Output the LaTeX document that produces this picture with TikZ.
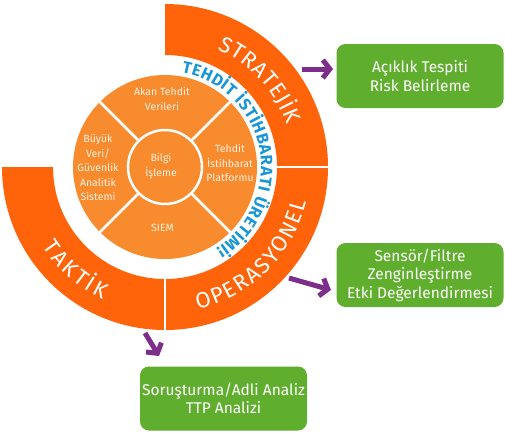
\documentclass[tikz,border=0pt]{standalone}
\usepackage{fontspec}
\setmainfont{Fira Sans}
\usetikzlibrary{decorations.text,arrows.meta}
\definecolor{ringor}{HTML}{FF640A}
\definecolor{diskor}{HTML}{F78B2E}
\definecolor{disktxt}{HTML}{FFF1E2}
\definecolor{gr}{HTML}{60AE2E}
\definecolor{purp}{HTML}{7D2D8C}
\definecolor{tblue}{HTML}{1996D7}
\newcommand\ringfnt{\color{white}\fontsize{22}{22}\selectfont}
\newcommand\bluefnt{\color{tblue}\bfseries\fontsize{16.5}{16.5}\selectfont}
\begin{document}
\begin{tikzpicture}[x=1pt,y=1pt,
  dtext/.style={text=disktxt, align=center, font=\fontsize{10.5}{14.5}\selectfont, inner sep=0pt},
  gbox/.style={fill=gr, rounded corners=9pt, minimum width=167pt, minimum height=64pt, text=white, align=center, font=\fontsize{15.5}{18.5}\selectfont, inner sep=0pt},
  parrow/.style={draw=purp, line width=5pt, -{Straight Barb[length=7pt,width=18pt]}},
  sep/.style={white, line width=2.5pt}]
\useasboundingbox (0,0) rectangle (505,-432);
\begin{scope}[shift={(165,-167)}]
  % outer ring (three segments)
  \fill[ringor] (90:163) arc[start angle=90,end angle=-180,radius=163]
     -- (180:112) arc[start angle=-180,end angle=90,radius=112] -- cycle;
  \draw[sep] (0:110) -- (0:165);
  \draw[sep] (-90:110) -- (-90:165);
  % inner disk
  \fill[diskor] (0,0) circle[radius=92];
  \foreach \a in {45,135,225,315} \draw[sep] (\a:36) -- (\a:93);
  \draw[sep, fill=diskor] (0,0) circle[radius=37];
  % ring labels
  \path[decorate,decoration={text along path,text align={fit to path},
     text={|\ringfnt|STRATEJİK}}] (66:129) arc[start angle=66,end angle=19,radius=129];
  \path[decorate,decoration={text along path,text align={fit to path},
     text={|\ringfnt|OPERASYONEL}}] (-77:146) arc[start angle=-77,end angle=-14,radius=146];
  \path[decorate,decoration={text along path,text align={fit to path},
     text={|\ringfnt|TAKTİK}}] (213:146) arc[start angle=213,end angle=245,radius=146];
  \path[decorate,decoration={text along path,text align={fit to path},
     text={|\bluefnt|TEHDİT İSTİHBARATI ÜRETİMİ!}}] (80:96) arc[start angle=80,end angle=-58,radius=96];
\end{scope}
% disk texts
\node[dtext] (akan) at (162,-99) {Akan Tehdit\\Verileri};
\node[dtext] (platf) at (230,-163) {Tehdit\\İstihbarat\\Platformu};
\node[dtext] (siem) at (162.5,-228) {SIEM};
\node[dtext] (buyuk) at (98,-168) {Büyük\\Veri/\\Güvenlik\\Analitik\\Sistemi};
\node[dtext] (bilgi) at (161,-166) {Bilgi\\İşleme};
% green boxes
\node[gbox] (b1) at (420,-76) {Açıklık Tespiti\\Risk Belirleme};
\node[gbox] (b2) at (420,-275) {Sensör/Filtre\\Zenginleştirme\\Etki Değerlendirmesi};
\node[gbox] (b3) at (223.5,-398.5) {Soruşturma/Adli Analiz\\TTP Analizi};
% arrows
\coordinate (a1s) at (302,-69);
\coordinate (a1e) at (333,-69);
\coordinate (a2s) at (289,-278);
\coordinate (a2e) at (331,-290);
\coordinate (a3s) at (145,-333);
\coordinate (a3e) at (159,-356);
\draw[parrow] (a1s) -- (a1e);
\draw[parrow] (a2s) -- (a2e);
\draw[parrow] (a3s) -- (a3e);
\end{tikzpicture}
\end{document}
